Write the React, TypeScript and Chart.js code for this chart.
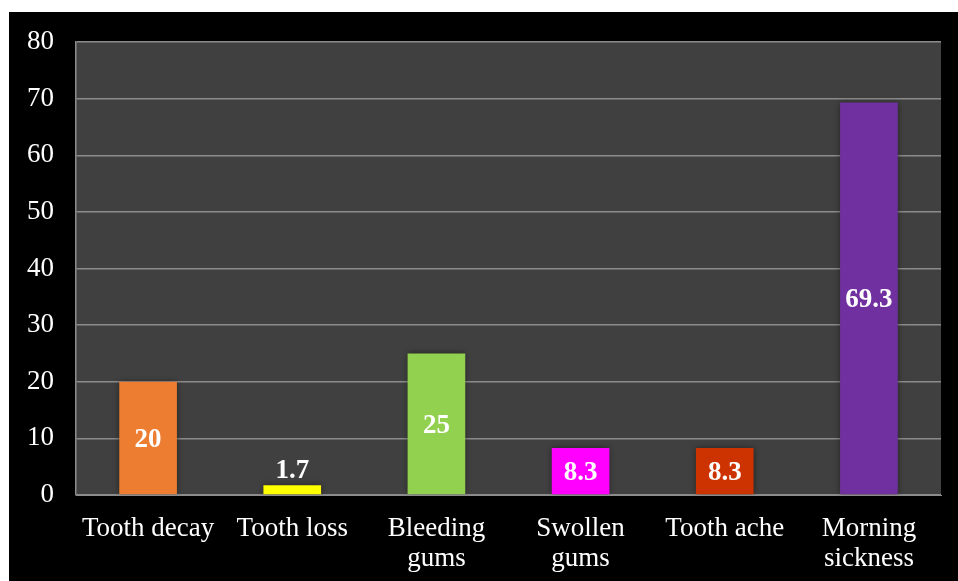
import React, { useEffect, useRef } from "react";
import { Chart, registerables } from "chart.js";

Chart.register(...registerables);

// Symptom categories (multi-line where the axis wraps them)
const categories: string[][] = [
  ["Tooth decay"],
  ["Tooth loss"],
  ["Bleeding", "gums"],
  ["Swollen", "gums"],
  ["Tooth ache"],
  ["Morning", "sickness"],
];

// Share of respondents per symptom
const values: number[] = [20, 1.7, 25, 8.3, 8.3, 69.3];

const barColors: string[] = ["#ED7D31", "#FFFF00", "#92D050", "#FF00FF", "#CC3300", "#7030A0"];

const yTicks: number[] = [0, 10, 20, 30, 40, 50, 60, 70, 80];

const FONT = "'Liberation Serif', 'Times New Roman', serif";

// Fills the plot area with a dark grey panel
const plotBackground = {
  id: "plotBackground",
  beforeDraw(chart: any) {
    const { ctx, chartArea } = chart;
    ctx.save();
    ctx.fillStyle = "#404040";
    ctx.fillRect(chartArea.left, chartArea.top, chartArea.right - chartArea.left, chartArea.bottom - chartArea.top);
    ctx.restore();
  },
};

// Soft shadow behind bars
const barShadow = {
  id: "barShadow",
  beforeDatasetsDraw(chart: any) {
    const ctx = chart.ctx;
    ctx.save();
    ctx.shadowColor = "rgba(0,0,0,0.45)";
    ctx.shadowBlur = 6;
    ctx.shadowOffsetX = 0;
    ctx.shadowOffsetY = 0;
  },
  afterDatasetsDraw(chart: any) {
    chart.ctx.restore();
  },
};

// Bold value labels: centred in the bar, or just above it when the bar is too short
const valueLabels = {
  id: "valueLabels",
  afterDatasetsDraw(chart: any) {
    const { ctx } = chart;
    const meta = chart.getDatasetMeta(0);
    ctx.save();
    ctx.font = `bold 27px ${FONT}`;
    ctx.fillStyle = "#FFFFFF";
    ctx.textAlign = "center";
    ctx.textBaseline = "alphabetic";
    meta.data.forEach((bar: any, i: number) => {
      const v = values[i];
      const h = bar.base - bar.y;
      const text = String(v);
      const y = h < 32 ? bar.y - 7 : (bar.y + bar.base) / 2 + 9;
      ctx.fillText(text, bar.x, y);
    });
    ctx.restore();
  },
};

export default function App() {
  const canvasRef = useRef<HTMLCanvasElement | null>(null);

  useEffect(() => {
    if (!canvasRef.current) return;
    const chart = new Chart(canvasRef.current, {
      type: "bar",
      data: {
        labels: categories,
        datasets: [
          {
            data: values,
            backgroundColor: barColors,
            borderWidth: 0,
            barPercentage: 0.4,
            categoryPercentage: 1,
          },
        ],
      },
      options: {
        animation: false,
        responsive: false,
        maintainAspectRatio: false,
        layout: { padding: { left: 0, right: 17, top: 30, bottom: 0 } },
        plugins: {
          legend: { display: false },
          tooltip: { enabled: false },
        },
        scales: {
          x: {
            grid: { display: false, drawTicks: false },
            border: { display: true, color: "#8C8C8C", width: 1 },
            ticks: {
              color: "#FFFFFF",
              font: { family: FONT, size: 27, lineHeight: 1.12 },
              padding: 19,
              maxRotation: 0,
              autoSkip: false,
            },
            afterFit(scale: any) {
              scale.height = 86;
            },
          },
          y: {
            min: 0,
            max: 80,
            afterBuildTicks(scale: any) {
              scale.ticks = yTicks.map((v) => ({ value: v }));
            },
            grid: { color: "#8C8C8C", lineWidth: 1.5, drawTicks: false },
            border: { display: true, color: "#8C8C8C", width: 1.5 },
            ticks: {
              color: "#FFFFFF",
              font: { family: FONT, size: 27 },
              padding: 22,
            },
            afterFit(scale: any) {
              scale.width = 67;
              scale.paddingTop = 0;
              scale.paddingBottom = 0;
            },
          },
        },
      },
      plugins: [plotBackground, barShadow, valueLabels],
    });
    return () => chart.destroy();
  }, []);

  return (
    <div
      style={{
        position: "fixed",
        left: 0,
        top: 0,
        width: 958,
        height: 581,
        background: "#FFFFFF",
      }}
    >
      <canvas
        ref={canvasRef}
        width={949}
        height={569}
        style={{ position: "absolute", left: 9, top: 12, width: 949, height: 569, background: "#000000" }}
      />
    </div>
  );
}
